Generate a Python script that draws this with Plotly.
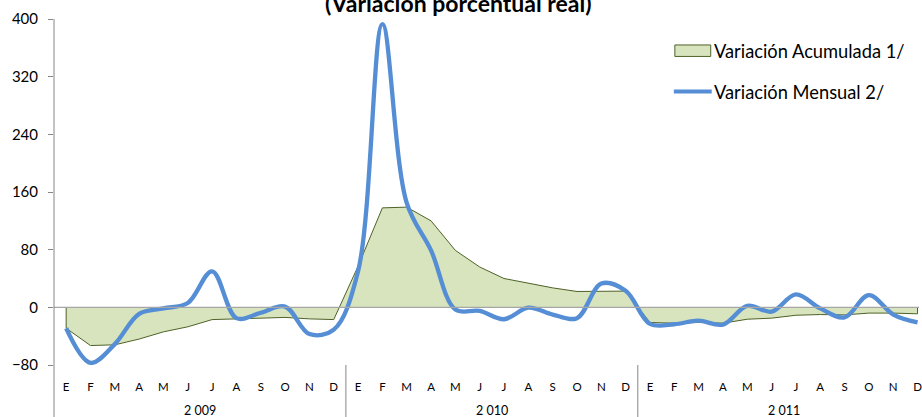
import plotly.graph_objects as go

month_labels = ["E", "F", "M", "A", "M", "J", "J", "A", "S", "O", "N", "D"] * 3
year_labels = ["2 009", "2 010", "2 011"]

acumulada = [-29, -53, -52, -44, -34, -27, -17, -16, -15, -14, -16, -17,
             57, 138, 139, 120, 79, 56, 40, 33, 27, 22, 22, 22.5,
             -21, -22, -21, -22, -16.5, -15, -11, -10, -10.5, -8, -8, -9]
mensual = [-29, -77, -51, -9, -1.5, 6, 50, -15, -7.5, 1, -37, -31,
           50, 393, 145, 79, -3, -5, -16.5, -0.5, -10, -15, 33, 23,
           -23, -23.5, -18.5, -24, 2, -6, 18, -1.5, -14, 17, -10, -21]

legend_names = ["Variación Acumulada 1/", "Variación Mensual 2/"]
title_text = "(Variación porcentual real)"

FONT = "Lato"
W, H = 922, 417
ML, MT, MB = 54, 18.5, 52
x_idx = list(range(len(month_labels)))
xmin, xmax = -0.5, 35.06
ymin, ymax = -80, 400
plot_w = W - ML
plot_h = H - MT - MB

def xp(v):
    return (v - xmin) / (xmax - xmin)

def px_to_paper_x(p):
    return (p - ML) / plot_w

def px_to_paper_y(p):
    return (H - MB - p) / plot_h

fig = go.Figure()

# area (closed polygon down to zero)
fig.add_trace(go.Scatter(
    x=[x_idx[0]] + x_idx + [x_idx[-1]],
    y=[0] + acumulada + [0],
    mode="lines", fill="toself", fillcolor="#D7E4BD",
    line=dict(color="#4F6228", width=1),
    name=legend_names[0], showlegend=False, hoverinfo="skip"))

fig.add_trace(go.Scatter(
    x=x_idx, y=mensual, mode="lines",
    line=dict(color="#558ED5", width=4.3, shape="spline", smoothing=1),
    name=legend_names[1], showlegend=False))

shapes = []
# zero baseline (category axis)
shapes.append(dict(type="line", xref="paper", yref="y", x0=0, x1=1, y0=0, y1=0,
                   line=dict(color="#A6A6A6", width=1.2), layer="above"))
# vertical axis line extended through label area
shapes.append(dict(type="line", xref="paper", yref="paper", x0=0, x1=0, y0=1, y1=-0.2,
                   line=dict(color="#868686", width=1)))
# year dividers
for b in (11.5, 23.5):
    shapes.append(dict(type="line", xref="paper", yref="paper", x0=xp(b), x1=xp(b),
                       y0=0, y1=-0.2, line=dict(color="#868686", width=1)))
# legend symbols
shapes.append(dict(type="rect", xref="paper", yref="paper",
                   x0=px_to_paper_x(677), x1=px_to_paper_x(713),
                   y0=px_to_paper_y(56), y1=px_to_paper_y(44.5),
                   fillcolor="#D7E4BD", line=dict(color="#4F6228", width=1)))
shapes.append(dict(type="line", xref="paper", yref="paper",
                   x0=px_to_paper_x(676), x1=px_to_paper_x(714),
                   y0=px_to_paper_y(91), y1=px_to_paper_y(91),
                   line=dict(color="#558ED5", width=4)))

annotations = []
for i, nm in enumerate(legend_names):
    annotations.append(dict(text=nm, xref="paper", yref="paper",
                            x=px_to_paper_x(714), y=px_to_paper_y(50.5 + 41 * i),
                            xanchor="left", yanchor="middle", showarrow=False,
                            font=dict(family=FONT, size=18.3, color="#000000")))
for k, yl in enumerate(year_labels):
    annotations.append(dict(text=yl, xref="paper", yref="paper",
                            x=xp(5.5 + 12 * k), y=px_to_paper_y(410.5),
                            xanchor="center", yanchor="middle", showarrow=False,
                            font=dict(family=FONT, size=12.5, color="#000000")))
annotations.append(dict(text="<b>" + title_text + "</b>", xref="paper", yref="paper",
                        x=px_to_paper_x(459), y=px_to_paper_y(2.5),
                        xanchor="center", yanchor="middle", showarrow=False,
                        font=dict(family=FONT, size=23, color="#000000")))

fig.update_layout(
    width=W, height=H,
    margin=dict(l=ML, r=0, t=MT, b=MB, pad=0),
    paper_bgcolor="white", plot_bgcolor="white",
    showlegend=False,
    shapes=shapes, annotations=annotations,
    font=dict(family=FONT, color="#000000"),
)
fig.update_xaxes(range=[xmin, xmax], tickmode="array", tickvals=x_idx, ticktext=month_labels,
                 showgrid=False, zeroline=False, showline=False, ticks="",
                 tickfont=dict(family=FONT, size=11.5, color="#000000"), ticklabelstandoff=13,
                 ticklabeloverflow="allow", fixedrange=True)
fig.update_yaxes(range=[ymin, ymax], tickmode="array", tickvals=[-80, 0, 80, 160, 240, 320, 400],
                 showgrid=False, zeroline=False, showline=False,
                 ticks="outside", ticklen=5, tickcolor="#868686", tickwidth=1,
                 tickfont=dict(family=FONT, size=15, color="#000000"), ticklabelstandoff=7,
                 fixedrange=True)

fig.write_html("out.html", config={"displayModeBar": False},
               post_script="document.body.style.margin='0';document.body.style.overflow='hidden';")
